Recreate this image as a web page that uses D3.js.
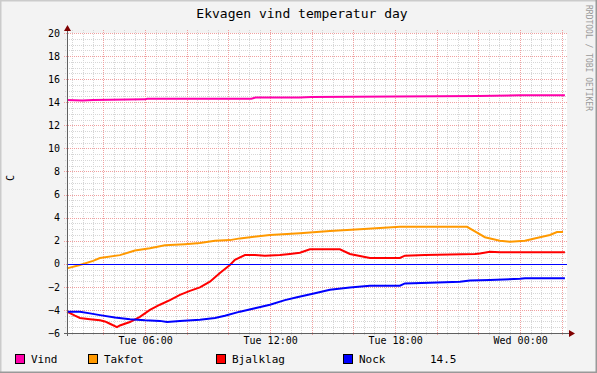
<!DOCTYPE html>
<html>
<head>
<meta charset="utf-8">
<script src="https://cdn.jsdelivr.net/npm/d3@7"></script>
<style>
  body { margin: 0; background: #fff; }
  text { font-family: "DejaVu Sans Mono", monospace; }
</style>
</head>
<body>
<div id="vis"></div>
<script>
// data: [hours since Tue 00:00, degrees C]
let vind = [[2.25, 14.2], [3.0, 14.15], [3.5, 14.2], [6.0, 14.25], [6.1, 14.3], [11.1, 14.3], [11.3, 14.4],
  [13.4, 14.4], [14.0, 14.45], [18.0, 14.5], [22.0, 14.55], [24.0, 14.6], [26.15, 14.6]]
let takfot = [[2.25, -0.4], [2.87, -0.1], [3.5, 0.25], [3.83, 0.5], [4.79, 0.75], [5.51, 1.15], [6.23, 1.35],
  [6.95, 1.6], [7.91, 1.7], [8.63, 1.8], [9.35, 2.0], [10.07, 2.05], [10.55, 2.2], [11.99, 2.5], [13.43, 2.65],
  [14.87, 2.85], [16.31, 3.0], [17.27, 3.1], [18.23, 3.2], [21.45, 3.2], [21.83, 2.8], [22.31, 2.3],
  [23.03, 2.0], [23.51, 1.9], [24.23, 2.0], [24.95, 2.3], [25.43, 2.5], [25.77, 2.75], [26.06, 2.75]]
let bjalklag = [[2.25, -4.15], [2.63, -4.5], [2.87, -4.7], [3.35, -4.8], [3.83, -4.9], [4.07, -5.0], [4.31, -5.2],
  [4.65, -5.5], [4.79, -5.35], [5.27, -5.05], [5.75, -4.6], [6.23, -4.0], [6.71, -3.55], [7.19, -3.15],
  [7.67, -2.7], [8.15, -2.35], [8.63, -2.05], [9.11, -1.55], [9.59, -0.8], [10.07, -0.1], [10.31, 0.35],
  [10.79, 0.75], [11.27, 0.75], [11.75, 0.7], [12.47, 0.75], [12.95, 0.85], [13.43, 0.95], [13.91, 1.25],
  [15.35, 1.25], [15.83, 0.85], [16.79, 0.5], [18.23, 0.5], [18.47, 0.7], [19.43, 0.75], [21.83, 0.85],
  [22.07, 0.9], [22.55, 1.05], [23.03, 1.0], [26.15, 1.0]]
let nock = [[2.25, -4.15], [2.87, -4.15], [3.35, -4.3], [3.83, -4.45], [4.55, -4.65], [5.27, -4.8], [5.99, -4.9],
  [6.71, -4.95], [7.05, -5.05], [7.67, -4.95], [8.63, -4.85], [9.35, -4.7], [9.83, -4.5], [10.55, -4.15],
  [11.27, -3.85], [11.99, -3.55], [12.71, -3.15], [13.29, -2.9], [14.15, -2.55], [14.87, -2.25],
  [15.83, -2.05], [16.79, -1.9], [18.23, -1.9], [18.47, -1.7], [19.67, -1.65], [21.11, -1.55],
  [21.59, -1.45], [22.55, -1.4], [23.99, -1.3], [24.23, -1.25], [26.15, -1.25]]

let seriesNames = ['Vind', 'Takfot', 'Bjalklag', 'Nock']
let seriesColors = ['#ff00aa', '#ff9900', '#ff0000', '#0000ff']
let yTicks = [-6, -4, -2, 0, 2, 4, 6, 8, 10, 12, 14, 16, 18, 20]
let xTickHours = [6, 12, 18, 24]
let xTickLabels = ['Tue 06:00', 'Tue 12:00', 'Tue 18:00', 'Wed 00:00']
let lastValue = '14.5'

let W = 597, H = 373
let margin = { top: 33, left: 67, right: 30, bottom: 40 }

let svg = d3.select('#vis')
  .append('svg')
  .attr('width', W)
  .attr('height', H)

// outer canvas with shade border
svg.append('rect').attr('width', W).attr('height', H).attr('fill', '#f3f3f3')
svg.append('path').attr('d', `M0.5,${H} V0.5 H${W}`).attr('stroke', '#cbcbcb').attr('stroke-width', 2).attr('fill', 'none')
svg.append('path').attr('d', `M0,${H - 0.5} H${W - 0.5} V0`).attr('stroke', '#999999').attr('stroke-width', 2).attr('fill', 'none')

let x = d3.scaleLinear().domain([2.25, 26.25]).range([margin.left, W - margin.right])
let y = d3.scaleLinear().domain([-6, 20]).range([H - margin.bottom, margin.top])

// plot background
svg.append('rect')
  .attr('x', x(2.25)).attr('y', y(20))
  .attr('width', x(26.25) - x(2.25)).attr('height', y(-6) - y(20))
  .attr('fill', '#ffffff')

let grid = svg.append('g').attr('shape-rendering', 'crispEdges')

// minor grid
let minorX = d3.range(2.5, 26.3, 0.5).filter(h => h % 2 != 0)
let minorY = d3.range(-6, 20.1, 0.5).filter(v => v % 2 != 0)
grid.selectAll('.mx').data(minorX).join('line')
  .attr('x1', d => Math.round(x(d)) + 0.5).attr('x2', d => Math.round(x(d)) + 0.5)
  .attr('y1', y(20) - 3).attr('y2', y(-6) + 2)
  .attr('stroke', '#d6d6d6').attr('stroke-dasharray', '1,1')
grid.selectAll('.my').data(minorY).join('line')
  .attr('y1', d => Math.round(y(d)) + 0.5).attr('y2', d => Math.round(y(d)) + 0.5)
  .attr('x1', x(2.25) - 2).attr('x2', x(26.25))
  .attr('stroke', '#d6d6d6').attr('stroke-dasharray', '1,1')

// major grid
let majorX = d3.range(4, 26.3, 2)
grid.selectAll('.Mx').data(majorX).join('line')
  .attr('x1', d => Math.round(x(d)) + 0.5).attr('x2', d => Math.round(x(d)) + 0.5)
  .attr('y1', y(20) - 3).attr('y2', y(-6) + 3)
  .attr('stroke', '#f0a0a0').attr('stroke-dasharray', '1,1')
grid.selectAll('.My').data(yTicks).join('line')
  .attr('y1', d => Math.round(y(d)) + 0.5).attr('y2', d => Math.round(y(d)) + 0.5)
  .attr('x1', x(2.25) - 3).attr('x2', x(26.25))
  .attr('stroke', '#f0a0a0').attr('stroke-dasharray', '1,1')

// axis labels
let yAxis = svg.append('g')
  .attr('transform', `translate(${x(2.25)},0)`)
  .call(d3.axisLeft(y).tickValues(yTicks).tickSize(0).tickPadding(7))
yAxis.select('.domain').remove()
yAxis.selectAll('text').attr('font-size', 10).attr('fill', '#000')
  .style('font-family', '"DejaVu Sans Mono", monospace')

let xAxis = svg.append('g')
  .attr('transform', `translate(0,${y(-6)})`)
  .call(d3.axisBottom(x).tickValues(xTickHours).tickSize(0).tickPadding(4)
    .tickFormat((d, i) => xTickLabels[i]))
xAxis.select('.domain').remove()
xAxis.selectAll('text').attr('font-size', 10).attr('fill', '#000')
  .style('font-family', '"DejaVu Sans Mono", monospace')

// series lines
let line = d3.line().x(d => x(d[0])).y(d => y(d[1]))
let allSeries = [vind, takfot, bjalklag, nock]
svg.selectAll('.series').data(allSeries).join('path')
  .attr('d', d => line(d))
  .attr('fill', 'none')
  .attr('stroke', (d, i) => seriesColors[i])
  .attr('stroke-width', 2)

// zero rule
svg.append('line')
  .attr('x1', x(2.25)).attr('x2', x(26.25))
  .attr('y1', Math.round(y(0)) + 0.5).attr('y2', Math.round(y(0)) + 0.5)
  .attr('stroke', '#0000ff').attr('stroke-width', 1)

// axes with arrows
let ax = svg.append('g').attr('shape-rendering', 'crispEdges')
ax.append('line')
  .attr('x1', x(2.25) + 0.5).attr('x2', x(2.25) + 0.5)
  .attr('y1', y(-6) + 3).attr('y2', y(20) - 4)
  .attr('stroke', '#606060')
ax.append('line')
  .attr('x1', x(2.25) - 3).attr('x2', x(26.25) + 4)
  .attr('y1', y(-6) + 0.5).attr('y2', y(-6) + 0.5)
  .attr('stroke', '#606060')
svg.append('path')
  .attr('d', `M${x(2.25) - 3},${y(20) - 2} L${x(2.25) + 0.5},${y(20) - 8} L${x(2.25) + 4},${y(20) - 2} Z`)
  .attr('fill', '#800000')
svg.append('path')
  .attr('d', `M${x(26.25) + 2},${y(-6) - 3} L${x(26.25) + 8},${y(-6) + 0.5} L${x(26.25) + 2},${y(-6) + 4} Z`)
  .attr('fill', '#800000')

// title
svg.append('text')
  .attr('x', 302).attr('y', 18)
  .attr('text-anchor', 'middle')
  .attr('font-size', 13)
  .text('Ekvagen vind temperatur day')

// y axis title
svg.append('text')
  .attr('transform', 'translate(14,178) rotate(-90)')
  .attr('text-anchor', 'middle')
  .attr('font-size', 10)
  .text('C')

// watermark
svg.append('text')
  .attr('transform', 'translate(586,5) rotate(90)')
  .attr('font-size', 8)
  .attr('fill', '#999999')
  .text('RRDTOOL / TOBI OETIKER')

// legend
let legendX = [15, 88, 216, 343]
let legend = svg.selectAll('.leg').data(seriesNames).join('g')
  .attr('transform', (d, i) => `translate(${legendX[i]},354)`)
legend.append('rect')
  .attr('x', 0.5).attr('y', 0.5).attr('width', 9).attr('height', 9)
  .attr('fill', (d, i) => seriesColors[i])
  .attr('stroke', '#000').attr('stroke-width', 1)
  .attr('shape-rendering', 'crispEdges')
legend.append('text')
  .attr('x', 16).attr('y', 9)
  .attr('font-size', 11)
  .text(d => d)

svg.append('text')
  .attr('x', 430).attr('y', 363)
  .attr('font-size', 11)
  .text(lastValue)
</script>
</body>
</html>
